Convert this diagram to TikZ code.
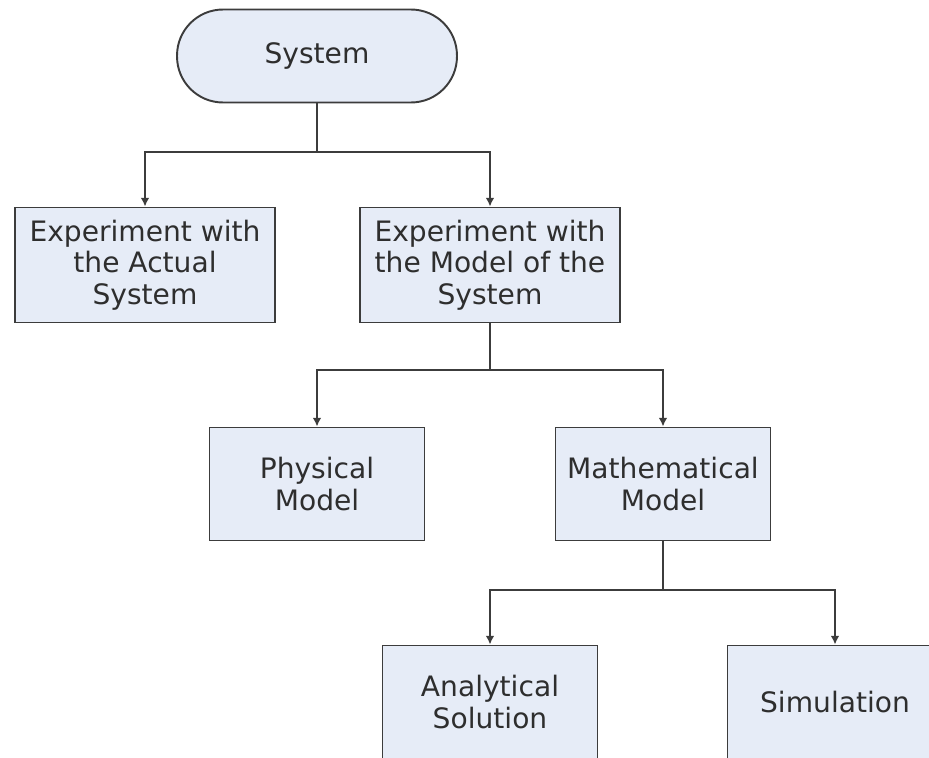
\documentclass[tikz,border=0pt]{standalone}
\usepackage{fontspec}
\setmainfont{DejaVu Sans}
\usetikzlibrary{arrows.meta}

\definecolor{boxfill}{HTML}{E6ECF7}
\definecolor{boxline}{HTML}{3C3C3C}
\definecolor{inktext}{HTML}{2E2E2E}

\tikzset{
  block/.style={draw=boxline, line width=1.1pt, fill=boxfill, text=inktext,
    align=center, inner sep=0pt,
    font=\fontsize{16}{17.8}\selectfont},
  wide/.style={block, minimum width=5.2cm, minimum height=2.3cm},
  narrow/.style={block, minimum width=4.3cm, minimum height=2.26cm},
  link/.style={draw=boxline, line width=1.1pt},
  >={Latex[length=5pt,width=5pt]}
}

\begin{document}
\begin{tikzpicture}[x=0.02cm, y=-0.02cm]
  \useasboundingbox (0,0) rectangle (929,757);
  \clip (0,0) rectangle (929,757);

  \node[block, minimum width=5.6cm, minimum height=1.86cm, rounded corners=0.92cm] (sys) at (317,56) {System};

  \node[wide] (act) at (145,265) {Experiment with\\the Actual\\System};
  \node[wide] (mod) at (490,265) {Experiment with\\the Model of the\\System};

  \node[narrow] (phys) at (317,484) {Physical\\Model};
  \node[narrow] (math) at (663,484) {Mathematical\\Model};

  \node[narrow] (ana) at (490,702) {Analytical\\Solution};
  \node[narrow] (sim) at (835,702) {Simulation};

  \coordinate (j1) at (317,152);
  \coordinate (j2) at (490,370);
  \coordinate (j3) at (663,590);

  \draw[link] (sys) -- (j1);
  \draw[link, ->] (j1) -| (act);
  \draw[link, ->] (j1) -| (mod);

  \draw[link] (mod) -- (j2);
  \draw[link, ->] (j2) -| (phys);
  \draw[link, ->] (j2) -| (math);

  \draw[link] (math) -- (j3);
  \draw[link, ->] (j3) -| (ana);
  \draw[link, ->] (j3) -| (sim);
\end{tikzpicture}
\end{document}
